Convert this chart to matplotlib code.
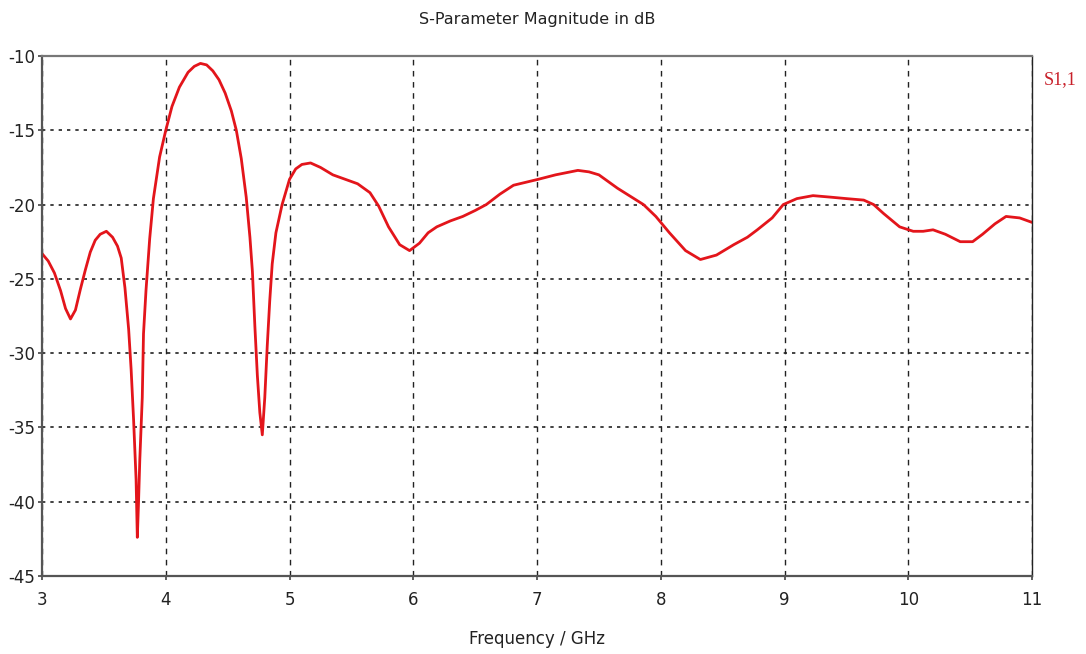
import matplotlib.pyplot as plt
import matplotlib.ticker as mticker

# S11 magnitude sweep (GHz, dB)
freq_ghz = [3.00, 3.05, 3.10, 3.15, 3.19, 3.23, 3.27, 3.31, 3.35, 3.39,
            3.43, 3.47, 3.52, 3.57, 3.61, 3.64, 3.67, 3.70, 3.72, 3.74,
            3.76, 3.77, 3.78, 3.79, 3.81, 3.82, 3.84, 3.87, 3.90, 3.95,
            4.00, 4.05, 4.11, 4.18, 4.23, 4.28, 4.33, 4.38, 4.43, 4.48,
            4.53, 4.57, 4.61, 4.65, 4.68, 4.70, 4.72, 4.74, 4.76, 4.78,
            4.80, 4.82, 4.84, 4.86, 4.89, 4.94, 5.00, 5.05, 5.10, 5.17,
            5.25, 5.35, 5.45, 5.55, 5.65, 5.72, 5.80, 5.89, 5.97, 6.05,
            6.12, 6.19, 6.30, 6.40, 6.50, 6.59, 6.70, 6.81, 6.91, 7.01,
            7.15, 7.33, 7.42, 7.50, 7.65, 7.86, 7.96, 8.07, 8.20, 8.32,
            8.45, 8.59, 8.70, 8.78, 8.90, 8.99, 9.10, 9.23, 9.37, 9.50,
            9.64, 9.72, 9.80, 9.93, 10.04, 10.12, 10.20, 10.30, 10.42, 10.52,
            10.60, 10.70, 10.79, 10.90, 11.00]
s11_db = [-23.3, -23.8, -24.6, -25.8, -27.0, -27.7, -27.1, -25.7, -24.4, -23.2,
          -22.4, -22.0, -21.8, -22.2, -22.8, -23.6, -25.6, -28.4, -31.1, -34.5,
          -38.5, -42.4, -40.0, -37.2, -33.0, -28.7, -25.8, -22.3, -19.6, -16.8,
          -15.0, -13.4, -12.1, -11.1, -10.7, -10.5, -10.6, -11.0, -11.6, -12.5,
          -13.7, -15.0, -16.9, -19.5, -22.2, -24.5, -28.2, -31.5, -34.0, -35.5,
          -33.0, -29.5, -26.5, -24.0, -21.9, -20.0, -18.3, -17.6, -17.3, -17.2,
          -17.5, -18.0, -18.3, -18.6, -19.2, -20.1, -21.5, -22.7, -23.1, -22.6,
          -21.9, -21.5, -21.1, -20.8, -20.4, -20.0, -19.3, -18.7, -18.5, -18.3,
          -18.0, -17.7, -17.8, -18.0, -18.9, -20.0, -20.8, -21.9, -23.1, -23.7,
          -23.4, -22.7, -22.2, -21.7, -20.9, -20.0, -19.6, -19.4, -19.5, -19.6,
          -19.7, -20.0, -20.6, -21.5, -21.8, -21.8, -21.7, -22.0, -22.5, -22.5,
          -22.0, -21.3, -20.8, -20.9, -21.2]

x_ticks = list(range(3, 12))
y_ticks = list(range(-45, -5, 5))

font = ['Liberation Sans Narrow', 'DejaVu Sans']
plt.rcParams['axes.unicode_minus'] = False

fig = plt.figure(figsize=(10.86, 6.54), dpi=100)
ax = fig.add_axes([0.0387, 0.1193, 0.9116, 0.7951])

ax.plot(freq_ghz, s11_db, color='#e3151b', linewidth=2.0)

ax.set_xlim(3, 11)
ax.set_ylim(-45, -10)
ax.set_xticks(x_ticks)
ax.set_yticks(y_ticks)
ax.xaxis.set_major_formatter(mticker.FormatStrFormatter('%d'))

# grid: dashed verticals, dotted horizontals
ax.xaxis.grid(True, linestyle=(0, (4, 4)), color='#222222', linewidth=1.0)
ax.yaxis.grid(True, linestyle=(0, (2, 3)), color='#222222', linewidth=1.2)
ax.set_axisbelow(True)

for side in ['left', 'bottom']:
    ax.spines[side].set_color('#555555')
    ax.spines[side].set_linewidth(1.6)
ax.spines['top'].set_color('#777777')
ax.spines['top'].set_linewidth(1.6)
ax.spines['right'].set_color('#222222')
ax.spines['right'].set_linewidth(1.0)

ax.tick_params(axis='both', direction='out', length=3, width=1.2, color='#444444',
               labelsize=12, labelcolor='#222222', pad=2)
ax.tick_params(axis='x', pad=8)
for lbl in ax.get_xticklabels() + ax.get_yticklabels():
    lbl.set_family(font)

ax.set_title('S-Parameter Magnitude in dB', fontsize=11.5, family=font, color='#222222', pad=23)
ax.set_xlabel('Frequency / GHz', fontsize=12, family=font, color='#222222', labelpad=15)

ax.text(1.012, 0.955, 'S1,1', transform=ax.transAxes, color='#c8202a', fontsize=13,
        family=['Liberation Serif', 'DejaVu Serif'], ha='left', va='center')

plt.savefig('out.png', dpi=100)
